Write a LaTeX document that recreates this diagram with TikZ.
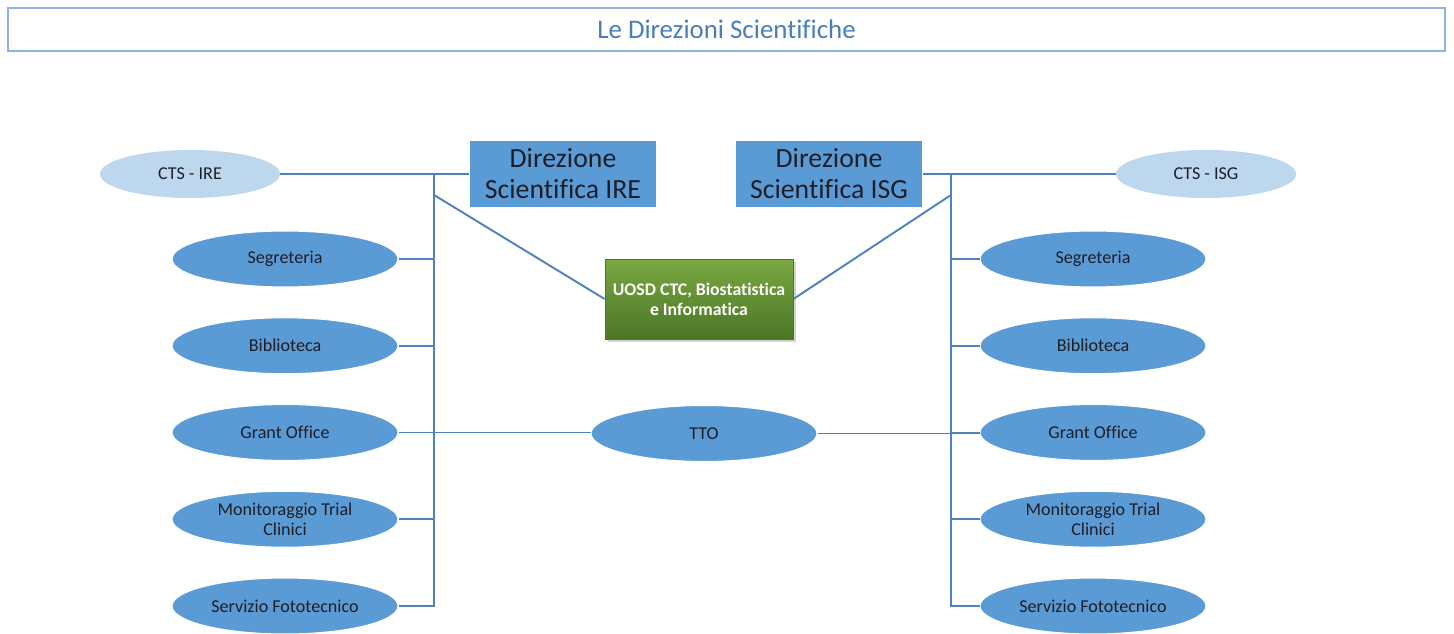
\documentclass[tikz,border=0pt]{standalone}
\usepackage{fontspec}
\setmainfont{Carlito}[Ligatures=NoCommon]
\usetikzlibrary{shapes.geometric,shadows}

\definecolor{linea}{RGB}{79,129,189}
\definecolor{celeste}{RGB}{91,155,213}
\definecolor{celestechiaro}{RGB}{189,215,238}
\definecolor{bordotitolo}{RGB}{141,179,226}
\definecolor{blutitolo}{RGB}{74,126,187}
\definecolor{verdechiaro}{RGB}{122,168,64}
\definecolor{verdescuro}{RGB}{76,118,40}
\definecolor{testo}{RGB}{30,30,40}

\tikzset{
  ufficio/.style={ellipse, fill=celeste, draw=white, line width=0.6pt,
    minimum width=4.52cm, minimum height=1.12cm, inner sep=0pt, align=center,
    text=testo, font=\fontsize{10.3}{11.5}\selectfont},
  cts/.style={ellipse, fill=celestechiaro, minimum width=3.6cm,
    minimum height=0.96cm, inner sep=0pt, text=testo,
    font=\fontsize{10.3}{11.5}\selectfont},
  direzione/.style={rectangle, fill=celeste, draw=white, line width=0.6pt,
    minimum width=3.74cm, minimum height=1.36cm, inner sep=0pt, align=center,
    text=testo, font=\fontsize{15.8}{17.6}\selectfont},
  collegamento/.style={draw=linea, line width=1.1pt}
}

\begin{document}
\begin{tikzpicture}[x=0.02cm, y=-0.02cm]
  \useasboundingbox (0,0) rectangle (1454,634);

  % titolo
  \node[draw=bordotitolo, line width=1pt, fill=white, minimum width=28.74cm,
    minimum height=0.86cm, inner sep=0pt, text=blutitolo,
    font=\fontsize{15.3}{17}\selectfont] (titolo) at (726.5,29.5)
    {Le Direzioni Scientifiche};

  % direzioni e CTS
  \node[cts] (ctsIRE) at (190,174) {CTS - IRE};
  \node[direzione] (dirIRE) at (563,174) {Direzione\\Scientifica IRE};
  \node[direzione] (dirISG) at (829,174) {Direzione\\Scientifica ISG};
  \node[cts] (ctsISG) at (1206,174) {CTS - ISG};

  \node[rectangle, top color=verdechiaro, bottom color=verdescuro,
    draw=verdescuro, line width=0.5pt, minimum width=3.76cm, minimum height=1.6cm,
    inner sep=0pt, align=center, text=white,
    font=\bfseries\fontsize{10.1}{11.3}\selectfont,
    drop shadow={opacity=0.35, shadow xshift=1.5pt, shadow yshift=-1.5pt}]
    (ctc) at (699,299) {UOSD CTC, Biostatistica\\e Informatica};

  \node[ufficio] (tto) at (704,433.5) {TTO};

  % uffici
  \foreach \nome [count=\i] in {Segreteria, Biblioteca, Grant Office,
      {Monitoraggio Trial\\Clinici}, Servizio Fototecnico} {
    \pgfmathsetmacro{\y}{172.25+86.75*\i}
    \node[ufficio] (sx\i) at (285,\y) {\nome};
    \node[ufficio] (dx\i) at (1093,\y) {\nome};
  }

  \coordinate (busSx) at (434,174);
  \coordinate (diagSx) at (434,195);
  \coordinate (busDx) at (951,174);
  \coordinate (diagDx) at (951,195);

  \begin{scope}[collegamento]
    \draw (ctsIRE.east) -- (dirIRE.west);
    \draw (dirISG.east) -- (ctsISG.west);
    \draw (busSx) |- (sx5.east);
    \draw (busDx) |- (dx5.west);
    \foreach \i in {1,...,4} {
      \draw (sx\i.east) -- (sx\i.east -| busSx);
      \draw (dx\i.west) -- (dx\i.west -| busDx);
    }
    \draw (diagSx) -- (ctc.west);
    \draw (diagDx) -- (ctc.east);
    \draw (sx3.east) -- (sx3.east -| tto.west) -- (tto.west);
    \draw (tto.east) -- (tto.east -| dx3.west);
  \end{scope}
\end{tikzpicture}
\end{document}
